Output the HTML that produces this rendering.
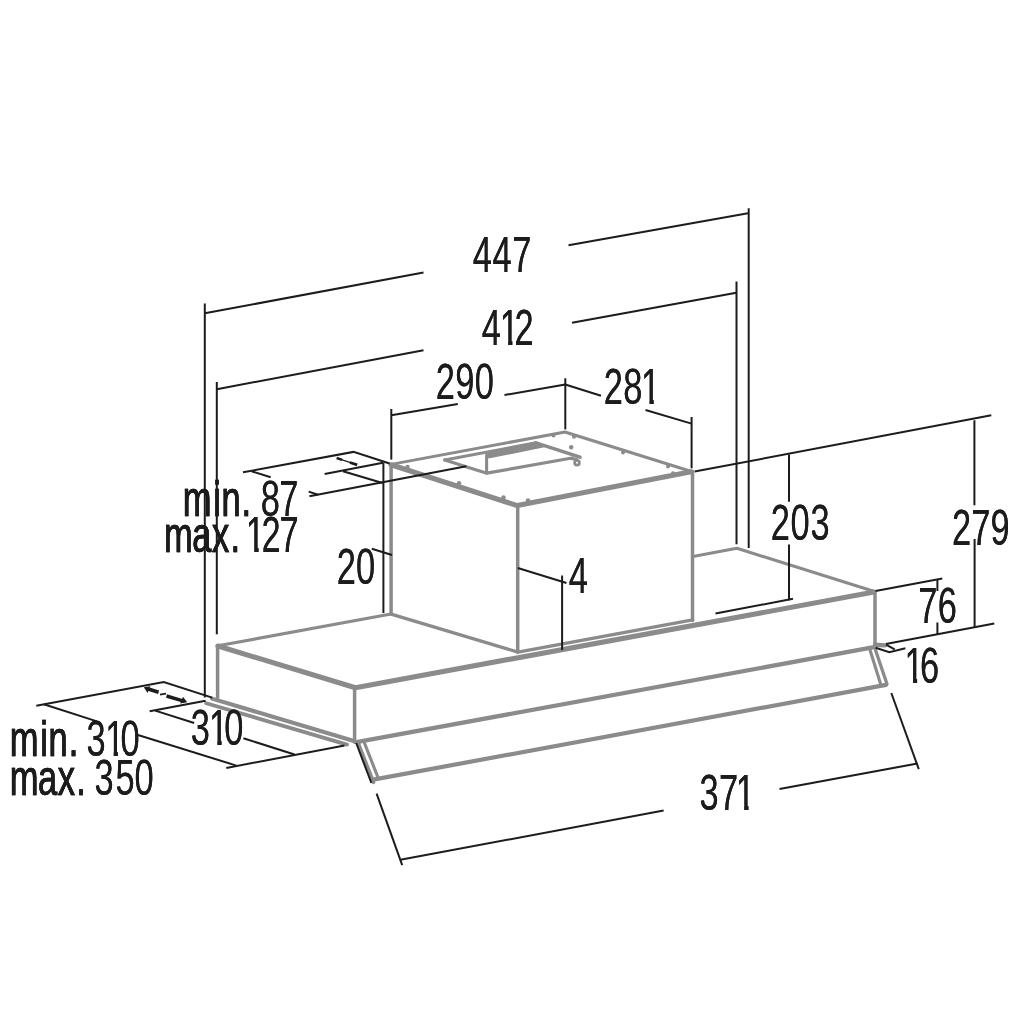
<!DOCTYPE html>
<html lang="en">
<head>
<meta charset="utf-8">
<title>Hood dimensions</title>
<style>
html,body{margin:0;padding:0;background:#fff;}
body{width:1024px;height:1024px;overflow:hidden;}
svg{display:block;}
.d{stroke:#1c1c1c;stroke-width:2;fill:none;stroke-linecap:butt;}
.g{stroke:#8b8b8b;stroke-width:3.5;fill:none;stroke-linecap:round;stroke-linejoin:round;}
.g2{stroke:#8b8b8b;stroke-width:3;fill:none;stroke-linecap:round;stroke-linejoin:round;}
.g4{stroke:#8b8b8b;stroke-width:5.1;fill:none;stroke-linecap:round;stroke-linejoin:round;}
text{font-family:"Liberation Sans",sans-serif;font-size:50px;fill:#1c1c1c;}
</style>
</head>
<body>
<svg width="1024" height="1024" viewBox="0 0 1024 1024">
<rect width="1024" height="1024" fill="#fff"/>

<!-- ===== grey hood body ===== -->
<g id="hood">
  <!-- top face -->
  <path class="g2" style="stroke-width:3.2" d="M217.9 645.8 L391 614"/>
  <path class="g2" style="stroke-width:3.1" d="M692.9 556.5 L736.9 548.2 L874.4 591.6"/>
  <path class="g4" d="M217.9 646 L355.4 687.7 L874 592.1"/>
  <!-- verticals -->
  <path class="g" d="M217.6 646 L217.6 697.5"/>
  <path class="g" d="M354.6 687.7 L354.6 742.2"/>
  <path class="g" d="M875 592 L875 644.5"/>
  <!-- lower front edge -->
  <path class="g" style="stroke-width:4.3" d="M356.5 742.2 L872.5 647.4"/>
  <!-- bottom left double edge -->
  <path class="g2" style="stroke-width:4.1" d="M212 698.6 L353.9 741"/>
  <path class="g2" style="stroke-width:3.8" d="M206.2 703.2 L347 744.6"/>
  <!-- visor -->
  <path class="g2" style="stroke-width:3.5" d="M358.4 743.4 L373.6 782.4"/>
  <path class="g2" style="stroke-width:3.1" d="M364.6 743.4 L378.2 778"/>
  <path class="g" style="stroke-width:4.2" d="M374.7 779.4 L886 684.9"/>
  <path class="g2" style="stroke-width:3.1" d="M869.8 649.3 L880.6 684"/>
  <path class="g2" style="stroke-width:3.3" d="M874.9 648.3 L887 684"/>
  <path class="g4" style="stroke-width:4.4" d="M875 644.8 L885 645.4"/>
</g>

<!-- ===== grey motor box ===== -->
<g id="box">
  <path class="g2" style="stroke-width:3" d="M391 464.4 L565 432 L691.5 471.5"/>
  <path class="g4" d="M391 464.8 L517.3 505.6 L691 471.8"/>
  <path class="g" d="M391.1 464.4 L391.1 614"/>
  <path class="g" d="M517.7 505.6 L517.7 652"/>
  <path class="g" d="M692.5 471.5 L692.5 620.5"/>
  <path class="g2" style="stroke-width:3.2" d="M391.1 614.1 L517.9 652.1"/>
  <path class="g2" style="stroke-width:3.3" d="M517.9 652.1 L692.7 619.8"/>
  <!-- opening -->
  <path class="g2" style="stroke-width:3.1" d="M444.8 460 L536 442.8"/>
  <path class="g" d="M536 442.8 L580 457.2"/>
  <path class="g2" style="stroke-width:3.2" d="M444.8 460 L486.8 473.2 L572 458"/>
  <path class="g2" style="stroke-width:3.1" d="M486.6 473 L486.6 455"/>
  <path d="M485.6 453 L536 442 L548 446.6 L488.6 458.6 Z" fill="#8b8b8b" stroke="none"/>
  <circle cx="577" cy="462.8" r="2.4" class="g2" style="stroke-width:2.7"/>
  <path class="g2" style="stroke-width:3" d="M571 458.6 L576.5 459.2"/>
  <circle cx="571.2" cy="447.2" r="2.2" fill="#8b8b8b"/>
  <!-- screws -->
  <circle cx="407.5" cy="467" r="2.2" fill="#8b8b8b"/>
  <circle cx="459" cy="483.2" r="2.2" fill="#8b8b8b"/>
  <circle cx="503.5" cy="497.5" r="2.2" fill="#8b8b8b"/>
  <circle cx="528" cy="500.4" r="2.2" fill="#8b8b8b"/>
  <circle cx="553.5" cy="435.6" r="2" fill="#8b8b8b"/>
  <circle cx="574" cy="436.8" r="2" fill="#8b8b8b"/>
  <circle cx="623" cy="452.6" r="2" fill="#8b8b8b"/>
  <circle cx="668" cy="466.6" r="2" fill="#8b8b8b"/>
  <circle cx="673" cy="473.2" r="2" fill="#8b8b8b"/>
</g>

<!-- ===== dark dimension lines ===== -->
<g id="dims">
  <!-- 447 -->
  <path class="d" d="M204.8 303.5 L204.8 697.5"/>
  <path class="d" d="M204.8 313.3 L423.5 272.5"/>
  <path class="d" d="M568.5 245.3 L748 213.3"/>
  <path class="d" d="M748.7 208.3 L748.7 548"/>
  <!-- 412 -->
  <path class="d" d="M216.8 382 L216.8 634.3"/>
  <path class="d" d="M216.8 389.2 L423.5 350.3"/>
  <path class="d" d="M572 322.8 L736.3 292.8"/>
  <path class="d" d="M736.5 281.5 L736.5 544.3"/>
  <!-- 290 / 281 -->
  <path class="d" d="M391.3 409 L391.3 459.6"/>
  <path class="d" d="M391.3 415.3 L457.8 404"/>
  <path class="d" d="M504.5 395 L565.3 384.5"/>
  <path class="d" d="M565.3 378.3 L565.3 429.4"/>
  <path class="d" d="M565.3 384.5 L601 395.8"/>
  <path class="d" d="M645.5 410 L691.6 423.6"/>
  <path class="d" d="M691.6 417 L691.6 468.3"/>
  <!-- min 87 cluster -->
  <path class="d" d="M243 472.3 L353.5 451.9 L389.6 463.5"/>
  <path class="d" d="M251.6 471.2 L270.7 477.2"/>
  <path class="d" d="M324.6 473.9 L383 462.7"/>
  <path class="d" d="M343 471.2 L382.5 483"/>
  <path class="d" d="M309.4 496.3 L466.3 466.3"/>
  <path class="d" d="M308.7 491.6 L318 494.8"/>
  <path class="d" style="stroke-width:1.2" d="M340 459.1 L352 463.1"/>
  <path class="d" style="stroke-width:2.4" d="M336.6 458 L342.2 459.9"/>
  <path class="d" style="stroke-width:2.8" d="M350 462.5 L357.2 464.9"/>
  <!-- 20 -->
  <path class="d" d="M383.4 462.7 L383.4 613"/>
  <path class="d" d="M371.8 548.8 L392 555"/>
  <!-- 4 -->
  <path class="d" d="M517.8 568 L566.5 583"/>
  <path class="d" d="M562.1 575.5 L562.1 650"/>
  <!-- 203 / 279 top line -->
  <path class="d" d="M694.6 471.6 L991.3 415.3"/>
  <path class="d" d="M789 454.6 L789 501.7"/>
  <path class="d" d="M789 544.6 L789 600.2"/>
  <path class="d" d="M715.5 613.5 L793 598.8"/>
  <path class="d" d="M974.4 420.3 L974.4 505.3"/>
  <path class="d" d="M974.6 539 L974.6 628"/>
  <!-- 76 -->
  <path class="d" d="M875.5 591 L942.3 578.4"/>
  <path class="d" d="M937.4 579 L937.4 591"/>
  <path class="d" d="M937.4 622.5 L937.4 634.6"/>
  <path class="d" d="M885.8 644 L994.3 623.5"/>
  <!-- 16 -->
  <path class="d" d="M875.6 647.8 L889.3 652.2 L905.4 648.3"/>
  <path class="d" d="M886.4 644.9 L894.7 649.3"/>
  <!-- 371 -->
  <path class="d" d="M356.2 743 L371.4 783"/>
  <path class="d" d="M376.6 793.7 L402.2 865.2"/>
  <path class="d" d="M400.4 859.8 L663.6 810.6"/>
  <path class="d" d="M779.5 789 L917.5 763.5"/>
  <path class="d" d="M891.3 693 L918.8 769.2"/>
  <!-- 310 cluster -->
  <path class="d" d="M36.3 705.8 L163.8 682 L212.2 697.6"/>
  <path class="d" d="M43.8 704.3 L97 721.4"/>
  <path class="d" d="M138 735 L236.4 765.6"/>
  <path class="d" d="M149.7 711.2 L205.6 700.7"/>
  <path class="d" d="M155.2 710.6 L194.2 723"/>
  <path class="d" d="M243.4 738.3 L294.5 754.5"/>
  <path class="d" d="M226.3 768 L344.5 745.4"/>
  <path class="d" style="stroke-width:3.6" d="M147.5 688.8 L158.6 692.3"/>
  <path class="d" style="stroke-width:1.8" d="M160 694.7 L166 693.7"/>
  <path class="d" style="stroke-width:3.4" d="M166.5 696 L182 700.6"/>
  <path d="M143.8 687.3 L150.4 686.2 L147.6 693 Z M187.2 702.3 L180.2 703.6 L183 696.8 Z" fill="#1c1c1c"/>
</g>

<!-- ===== labels ===== -->
<g id="labels" style="filter:drop-shadow(0.8px 0 0 #1c1c1c)">
  <clipPath id="c1"><path clip-rule="evenodd" d="M0 0H1024V1024H0Z M501.1 340.5H508.3V346.3H501.1Z M512.3 340.5H516.2V346.3H512.3Z"/></clipPath>
  <clipPath id="c3"><path clip-rule="evenodd" d="M0 0H1024V1024H0Z M642.4 400.0H649.6V405.8H642.4Z M653.6 400.0H660.5V405.8H653.6Z"/></clipPath>
  <clipPath id="c5"><path clip-rule="evenodd" d="M0 0H1024V1024H0Z M247.2 548.0H254.4V553.8H247.2Z M258.5 548.0H263.4V553.8H258.5Z"/></clipPath>
  <clipPath id="c11"><path clip-rule="evenodd" d="M0 0H1024V1024H0Z M905.8 678.4H913.1V684.2H905.8Z M917.1 678.4H924.0V684.2H917.1Z"/></clipPath>
  <clipPath id="c12"><path clip-rule="evenodd" d="M0 0H1024V1024H0Z M106.5 751.8H113.8V757.6H106.5Z M117.8 751.8H124.7V757.6H117.8Z"/></clipPath>
  <clipPath id="c14"><path clip-rule="evenodd" d="M0 0H1024V1024H0Z M210.2 741.1H217.5V746.9H210.2Z M221.5 741.1H228.4V746.9H221.5Z"/></clipPath>
  <clipPath id="c15"><path clip-rule="evenodd" d="M0 0H1024V1024H0Z M737.1 805.5H744.3V811.3H737.1Z M748.4 805.5H755.2V811.3H748.4Z"/></clipPath>
  <text transform="translate(0 271.6) scale(0.689 1)" x="686.3 715.0 743.6" y="0">447</text>
  <g clip-path="url(#c1)"><text transform="translate(0 344.8) scale(0.689 1)" x="699.1 725.3 746.9" y="0">412</text></g>
  <text transform="translate(0 399.4) scale(0.689 1)" x="632.3 660.8 689.2" y="0">290</text>
  <g clip-path="url(#c3)"><text transform="translate(0 404.3) scale(0.689 1)" x="876.1 904.5 930.4" y="0">281</text></g>
  <text transform="translate(0 516.3) scale(0.689 1)" x="265.3 309.5 321.5 350.6 364.6 378.6 405.2" y="0"><tspan stroke="#1c1c1c" stroke-width="0.7">min.</tspan> 87</text>
  <g clip-path="url(#c5)"><text transform="translate(0 552.3) scale(0.689 1)" x="238.2 279.1 307.7 334.4 345.6 356.8 379.7 405.8" y="0"><tspan stroke="#1c1c1c" stroke-width="0.7">max.</tspan> 127</text></g>
  <text transform="translate(0 584.2) scale(0.689 1)" x="488.6 516.7" y="0">20</text>
  <text transform="translate(0 593.0) scale(0.689 1)" x="825.5" y="0">4</text>
  <text transform="translate(0 539.6) scale(0.689 1)" x="1118.6 1147.5 1176.5" y="0">203</text>
  <text transform="translate(0 545.3) scale(0.689 1)" x="1381.6 1409.7 1437.7" y="0">279</text>
  <text transform="translate(0 623.2) scale(0.689 1)" x="1332.8 1360.9" y="0">76</text>
  <g clip-path="url(#c11)"><text transform="translate(0 682.7) scale(0.689 1)" x="1312.8 1335.4" y="0">16</text></g>
  <g clip-path="url(#c12)"><text transform="translate(0 756.1) scale(0.689 1)" x="14.3 58.5 70.5 99.7 112.7 125.7 152.7 174.9" y="0"><tspan stroke="#1c1c1c" stroke-width="0.7">min.</tspan> 310</text></g>
  <text transform="translate(0 795.2) scale(0.689 1)" x="14.3 55.2 83.9 110.5 123.8 137.0 167.6 195.2" y="0"><tspan stroke="#1c1c1c" stroke-width="0.7">max.</tspan> 350</text>
  <g clip-path="url(#c14)"><text transform="translate(0 745.4) scale(0.689 1)" x="276.7 303.2 325.3" y="0">310</text></g>
  <g clip-path="url(#c15)"><text transform="translate(0 809.8) scale(0.689 1)" x="1015.4 1043.5 1067.9" y="0">371</text></g>
</g>
</svg>
</body>
</html>
